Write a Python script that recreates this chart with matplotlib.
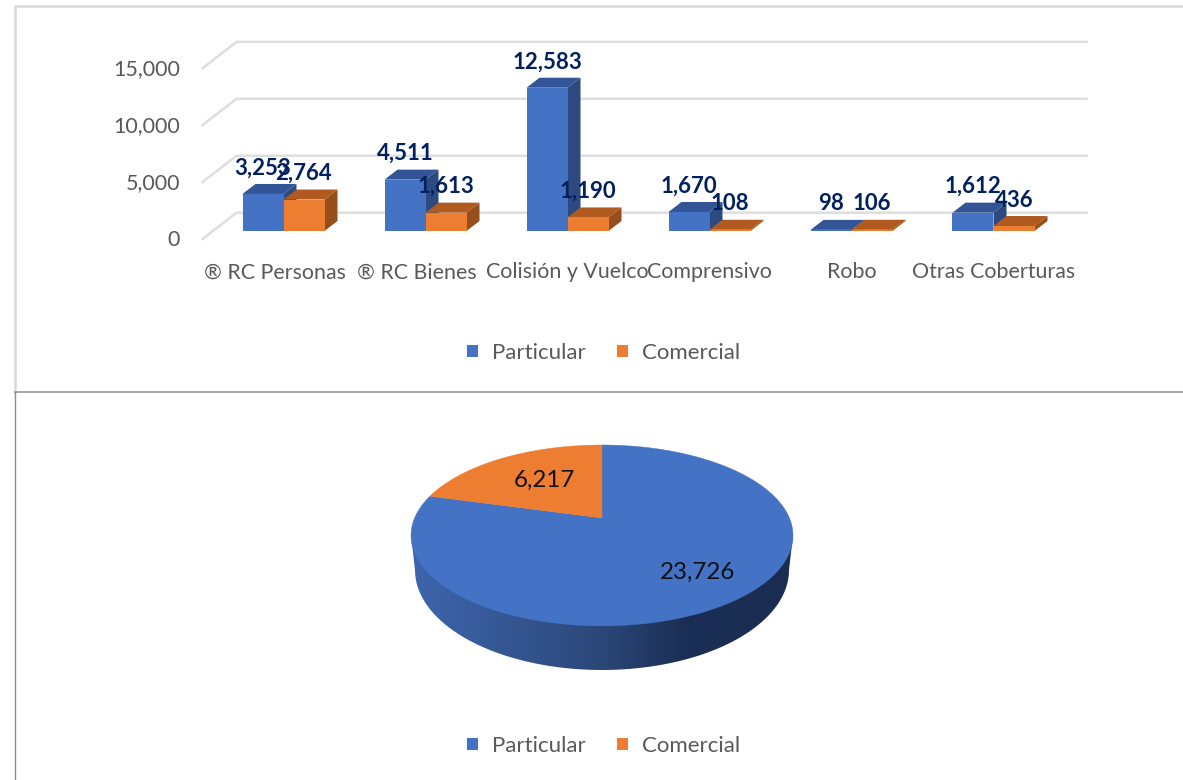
import numpy as np
import matplotlib
matplotlib.use("Agg")
import matplotlib.pyplot as plt
from matplotlib.patches import Polygon, Patch, PathPatch
from matplotlib.path import Path
from matplotlib.colors import LinearSegmentedColormap

categories = ["® RC Personas   ", "® RC Bienes   ", "Colisión y Vuelco", "Comprensivo", "Robo", "Otras Coberturas"]
particular = [3253, 4511, 12583, 1670, 98, 1612]
comercial = [2764, 1613, 1190, 108, 106, 436]
series_names = ["Particular", "Comercial"]
pie_values = [23726, 6217]
y_ticks = [0, 5000, 10000, 15000]

BLUE, ORANGE = "#4472C4", "#ED7D31"
BLUE_TOP, BLUE_SIDE = "#335597", "#2C4A80"
ORANGE_TOP, ORANGE_SIDE = "#B05A20", "#964E1B"
GRID = "#DEDEDE"
TICK = "#595959"
NAVY = "#002060"
W, H = 1183, 780
plt.rcParams["font.family"] = ["Lato", "DejaVu Sans"]

fig = plt.figure(figsize=(W / 100, H / 100), dpi=100, facecolor="white")


def px_axes(x0, x1, ytop, ybot):
    return fig.add_axes([x0 / W, 1 - ybot / H, (x1 - x0) / W, (ybot - ytop) / H])


# ---- overlay in pixel space: frames and the pie ----
ov = fig.add_axes([0, 0, 1, 1])
ov.set_xlim(0, W)
ov.set_ylim(H, 0)
ov.axis("off")
ov.plot([15, 15, W], [392, 6, 6], color="#D9D9D9", lw=1.8)
ov.plot([15, W], [392, 392], color="#A6A6A6", lw=1.4)
ov.plot([15, 15], [392, H], color="#8C8C8C", lw=1.0)

# ---- bar chart ----
PX = 15000 / 170.8          # value units per pixel
BAND = 142.0
ax_front = px_axes(203, 1055, 67.2, 238)
ax_front.set_xlim(0, 1)
ax_front.set_ylim(0, 15000)
ax_front.patch.set_alpha(0)
for s in ax_front.spines.values():
    s.set_visible(False)
ax_front.set_xticks([])
ax_front.set_yticks(y_ticks)
ax_front.set_yticklabels([f"{v:,}" for v in y_ticks], fontsize=15.5, color=TICK)
ax_front.tick_params(axis="y", length=0, pad=16.5)

ax = px_axes(212.5, 1064.5, 60.2, 231)
ax.set_xlim(-0.5, 5.5)
ax.set_ylim(0, 15000)
ax.patch.set_alpha(0)
for s in ax.spines.values():
    s.set_visible(False)
ax.set_yticks([])

# back wall grid + floor slants
back_dx, back_dy = 24 / BAND, 18.3 * PX
front_dx, front_dy = -10 / BAND, -8 * PX
for v in y_ticks:
    ax.plot([-0.5 + front_dx, -0.5 + back_dx, 5.5 + back_dx - 2 / BAND],
            [v + front_dy, v + back_dy, v + back_dy],
            color=GRID, lw=1.8, clip_on=False, zorder=1, solid_joinstyle="miter")

x = np.arange(len(categories))
bw = 41 / BAND
dx, dy = 13 / BAND, 10 * PX


def bar3d(xc, v, front, top, side, z):
    ax.bar(xc, v, bw, color=front, zorder=z + 0.2, clip_on=False)
    l, r = xc - bw / 2, xc + bw / 2
    ax.add_patch(Polygon([(l, v), (r, v), (r + dx, v + dy), (l + dx, v + dy)],
                         closed=True, fc=top, ec="none", zorder=z + 0.1, clip_on=False))
    ax.add_patch(Polygon([(r, 0), (r + dx, dy), (r + dx, v + dy), (r, v)],
                         closed=True, fc=side, ec="none", zorder=z, clip_on=False))


for i in x:
    bar3d(i - bw / 2, particular[i], BLUE, BLUE_TOP, BLUE_SIDE, 2 + i)
    bar3d(i + bw / 2, comercial[i], ORANGE, ORANGE_TOP, ORANGE_SIDE, 2.5 + i)

for i in x:
    for xc, v in ((i - bw / 2, particular[i]), (i + bw / 2, comercial[i])):
        ax.annotate(f"{v:,}", (xc, v), xytext=(0, 18.7), textcoords="offset points",
                    ha="center", va="center", fontsize=16, fontweight="bold",
                    color=NAVY, zorder=20, annotation_clip=False)

ax.set_xticks(x)
ax.set_xticklabels(categories, fontsize=15.4, color=TICK)
ax.tick_params(axis="x", length=0, pad=22.5)


def legend_at(host, cy):
    handles = [Patch(fc=BLUE, ec="none"), Patch(fc=ORANGE, ec="none")]
    host.legend(handles, series_names, loc="center", bbox_to_anchor=(603.5, cy),
                bbox_transform=ov.transData, ncol=2, frameon=False, fontsize=16,
                labelcolor=TICK, handlelength=0.5, handleheight=0.5,
                handletextpad=0.6, columnspacing=1.43, borderpad=0)


legend_at(ax, 353)

# ---- pie, perspective-projected disc ----
CX, APEX_Y = 602, 518
A, B, K = 87.1, 187.4, 0.193


def project(theta):
    """theta: clockwise from 12 o'clock, radians; unit disc to screen pixels."""
    u, v = np.sin(theta), np.cos(theta)
    d = 1 + K * v
    return CX + B * u / d, APEX_Y - A * v / d


# extruded side: lower rim plus link up to the widest points of the upper rim
t = np.linspace(np.pi, 2 * np.pi, 160)
low_x = CX + 187 * np.cos(t)
low_y = 570 - 100 * np.sin(t)
side_pts = np.column_stack([
    np.r_[CX + 191, low_x[::-1], CX - 191],
    np.r_[535, low_y[::-1], 535],
])
side_pts = np.vstack([side_pts, side_pts[0]])
side_path = Path(side_pts)
cmap = LinearSegmentedColormap.from_list(
    "side", [(0, "#3E66AE"), (0.5, "#2B4778"), (0.72, "#1B2E55"), (1, "#1A2C50")])
im = ov.imshow(np.linspace(0, 1, 256)[None, :], cmap=cmap, aspect="auto",
               extent=(411, 793, 680, 530), zorder=2)
im.set_clip_path(PathPatch(side_path, transform=ov.transData))
ov.set_xlim(0, W)
ov.set_ylim(H, 0)

total = sum(pie_values)
start = 0.0
for val, col in zip(pie_values, [BLUE, ORANGE]):
    end = start + 2 * np.pi * val / total
    th = np.linspace(start, end, 240)
    px, py = project(th)
    ov.add_patch(Polygon(np.column_stack([np.r_[CX, px], np.r_[APEX_Y, py]]),
                         closed=True, fc=col, ec=col, lw=0.3, zorder=3))
    start = end

ov.text(698, 572, f"{pie_values[0]:,}", fontsize=17.4, color="#111111",
        ha="center", va="center", zorder=5)
ov.text(544, 480, f"{pie_values[1]:,}", fontsize=17.4, color="#111111",
        ha="center", va="center", zorder=5)

legend_at(ov, 746)

fig.savefig("out.png", dpi=100, facecolor="white")
